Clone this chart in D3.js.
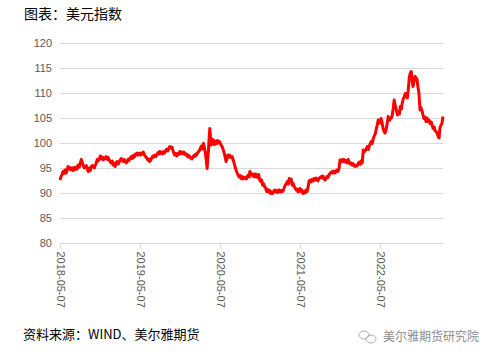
<!DOCTYPE html>
<html><head><meta charset="utf-8">
<script src="https://cdn.jsdelivr.net/npm/d3@7"></script>
<style>body{margin:0;background:#fff;}svg{display:block;}</style>
</head><body>
<svg id="c" width="494" height="361"></svg>
<script>
const title = "图表：美元指数";
const source = "资料来源：WIND、美尔雅期货";
const watermark = "美尔雅期货研究院";
const yTicks = [80, 85, 90, 95, 100, 105, 110, 115, 120];
const xTickLabels = ["2018-05-07", "2019-05-07", "2020-05-07", "2021-05-07", "2022-05-07"];
const seriesName = "美元指数";
const dates = [
"2018-05-07","2018-05-11","2018-05-15","2018-05-21","2018-05-25","2018-05-30","2018-06-04","2018-06-08","2018-06-13","2018-06-18","2018-06-22","2018-06-27",
"2018-07-02","2018-07-06","2018-07-11","2018-07-16","2018-07-20","2018-07-25","2018-07-29","2018-08-03","2018-08-08","2018-08-12","2018-08-16","2018-08-21",
"2018-08-26","2018-08-30","2018-09-04","2018-09-09","2018-09-13","2018-09-18","2018-09-22","2018-09-27","2018-10-01","2018-10-06","2018-10-11","2018-10-15",
"2018-10-19","2018-10-24","2018-10-29","2018-11-03","2018-11-07","2018-11-12","2018-11-16","2018-11-21","2018-11-25","2018-11-29","2018-12-04","2018-12-09",
"2018-12-13","2018-12-18","2018-12-22","2018-12-27","2019-01-01","2019-01-05","2019-01-10","2019-01-14","2019-01-18","2019-01-23","2019-01-28","2019-02-02",
"2019-02-06","2019-02-11","2019-02-15","2019-02-20","2019-02-25","2019-03-01","2019-03-05","2019-03-10","2019-03-15","2019-03-19","2019-03-24","2019-03-29",
"2019-04-03","2019-04-07","2019-04-12","2019-04-16","2019-04-21","2019-04-25","2019-04-30","2019-05-03","2019-05-07","2019-05-12","2019-05-17","2019-05-22",
"2019-05-27","2019-06-01","2019-06-07","2019-06-12","2019-06-16","2019-06-20","2019-06-25","2019-06-30","2019-07-05","2019-07-10","2019-07-14","2019-07-19",
"2019-07-24","2019-07-29","2019-08-02","2019-08-05","2019-08-10","2019-08-15","2019-08-19","2019-08-24","2019-08-28","2019-09-02","2019-09-07","2019-09-12",
"2019-09-16","2019-09-20","2019-09-25","2019-09-30","2019-10-04","2019-10-08","2019-10-12","2019-10-17","2019-10-22","2019-10-26","2019-10-31","2019-11-05",
"2019-11-10","2019-11-14","2019-11-18","2019-11-23","2019-11-27","2019-12-02","2019-12-07","2019-12-12","2019-12-16","2019-12-20","2019-12-25","2019-12-30",
"2020-01-03","2020-01-08","2020-01-13","2020-01-17","2020-01-21","2020-01-25","2020-01-30","2020-02-04","2020-02-08","2020-02-12","2020-02-17","2020-02-21",
"2020-02-25","2020-03-01","2020-03-05","2020-03-09","2020-03-12","2020-03-15","2020-03-18","2020-03-21","2020-03-24","2020-03-27","2020-03-31","2020-04-04",
"2020-04-08","2020-04-12","2020-04-16","2020-04-21","2020-04-25","2020-04-30","2020-05-04","2020-05-07","2020-05-12","2020-05-16","2020-05-21","2020-05-26",
"2020-05-30","2020-06-03","2020-06-07","2020-06-12","2020-06-16","2020-06-21","2020-06-25","2020-07-01","2020-07-06","2020-07-10","2020-07-14","2020-07-19",
"2020-07-24","2020-07-28","2020-08-02","2020-08-06","2020-08-11","2020-08-15","2020-08-20","2020-08-25","2020-08-30","2020-09-04","2020-09-08","2020-09-13",
"2020-09-17","2020-09-20","2020-09-24","2020-09-29","2020-10-03","2020-10-08","2020-10-12","2020-10-16","2020-10-20","2020-10-25","2020-10-30","2020-11-04",
"2020-11-08","2020-11-13","2020-11-17","2020-11-21","2020-11-26","2020-12-01","2020-12-06","2020-12-11","2020-12-15","2020-12-20","2020-12-24","2020-12-28",
"2021-01-02","2021-01-06","2021-01-11","2021-01-15","2021-01-20","2021-01-25","2021-01-29","2021-02-02","2021-02-06","2021-02-11","2021-02-15","2021-02-20",
"2021-02-25","2021-03-01","2021-03-06","2021-03-10","2021-03-15","2021-03-19","2021-03-24","2021-03-28","2021-04-01","2021-04-06","2021-04-10","2021-04-15",
"2021-04-19","2021-04-24","2021-04-28","2021-05-03","2021-05-07","2021-05-12","2021-05-16","2021-05-21","2021-05-25","2021-05-30","2021-06-03","2021-06-08",
"2021-06-12","2021-06-17","2021-06-22","2021-06-26","2021-07-01","2021-07-06","2021-07-10","2021-07-15","2021-07-19","2021-07-24","2021-07-28","2021-08-02",
"2021-08-06","2021-08-11","2021-08-15","2021-08-20","2021-08-24","2021-08-29","2021-09-02","2021-09-07","2021-09-12","2021-09-16","2021-09-21","2021-09-25",
"2021-09-30","2021-10-05","2021-10-09","2021-10-14","2021-10-18","2021-10-23","2021-10-27","2021-11-01","2021-11-06","2021-11-10","2021-11-15","2021-11-20",
"2021-11-24","2021-11-29","2021-12-03","2021-12-08","2021-12-13","2021-12-17","2021-12-22","2021-12-26","2021-12-31","2022-01-04","2022-01-09","2022-01-14",
"2022-01-18","2022-01-23","2022-01-28","2022-02-01","2022-02-06","2022-02-10","2022-02-15","2022-02-20","2022-02-24","2022-03-01","2022-03-06","2022-03-10",
"2022-03-15","2022-03-20","2022-03-24","2022-03-28","2022-04-02","2022-04-06","2022-04-11","2022-04-16","2022-04-20","2022-04-25","2022-04-29","2022-05-03",
"2022-05-07","2022-05-12","2022-05-16","2022-05-21","2022-05-26","2022-05-30","2022-06-04","2022-06-08","2022-06-14","2022-06-18","2022-06-23","2022-06-28",
"2022-07-02","2022-07-07","2022-07-11","2022-07-15","2022-07-20","2022-07-26","2022-07-30","2022-08-04","2022-08-08","2022-08-13","2022-08-17","2022-08-22",
"2022-08-26","2022-08-31","2022-09-04","2022-09-09","2022-09-13","2022-09-18","2022-09-22","2022-09-27","2022-10-01","2022-10-05","2022-10-10","2022-10-14",
"2022-10-19","2022-10-23","2022-10-27","2022-11-01","2022-11-06","2022-11-10","2022-11-15","2022-11-20","2022-11-24","2022-11-29","2022-12-03","2022-12-08",
"2022-12-12","2022-12-17","2022-12-22","2022-12-27","2022-12-31","2023-01-05","2023-01-10","2023-01-14","2023-01-19","2023-01-24","2023-01-28","2023-02-01",
"2023-02-05","2023-02-10","2023-02-14","2023-02-19"
];
const values = [
92.6,93.2,93.6,94.3,93.9,94.6,94.0,94.5,95.3,94.8,95.1,94.6,
95.0,94.5,95.1,94.7,95.2,94.8,95.6,95.2,96.0,96.7,96.3,95.5,
95.0,95.3,95.5,94.8,94.3,95.0,94.5,95.3,95.5,95.2,95.0,95.6,
95.9,96.7,96.4,96.9,97.4,96.8,97.2,96.6,97.0,96.9,97.3,96.7,
97.1,96.6,96.3,96.0,96.4,95.6,95.9,95.3,96.0,96.3,95.8,96.2,
96.6,96.9,96.6,96.3,96.7,96.4,96.0,96.3,96.8,96.5,97.0,97.3,
96.9,97.5,97.2,97.8,97.6,98.0,97.6,97.9,98.0,97.6,97.9,98.2,
97.7,97.3,97.0,96.6,96.8,96.3,96.6,97.0,97.4,97.2,97.6,97.3,
97.7,98.1,97.8,98.3,97.9,98.2,97.8,98.3,98.0,98.5,98.8,98.4,
98.9,99.3,99.0,99.2,98.6,98.1,97.6,97.9,97.4,97.9,97.7,98.3,
97.9,98.2,97.8,98.2,98.0,97.6,97.8,97.2,97.5,97.3,97.0,96.8,
97.1,97.5,97.3,97.8,97.6,98.0,98.3,98.6,99.1,99.4,98.8,99.9,
99.2,98.0,96.5,94.9,97.0,98.5,101.0,102.9,101.5,99.6,100.8,99.8,
100.6,99.7,100.3,99.9,100.5,100.0,100.3,100.0,99.6,99.3,98.7,98.0,
97.2,96.3,96.8,97.6,97.2,97.5,97.1,97.3,96.6,96.0,95.3,94.6,
94.0,93.6,93.2,93.5,92.9,93.3,92.8,93.2,93.0,92.8,93.3,93.6,
93.2,94.3,94.0,93.8,93.4,93.8,93.2,93.8,93.6,93.1,93.7,92.6,
92.3,92.6,91.6,91.9,91.3,91.0,90.3,90.7,90.2,90.5,89.9,90.2,
89.9,90.3,90.6,90.2,90.5,90.1,90.6,90.6,90.2,90.5,90.3,90.6,
91.2,91.6,91.9,92.3,91.8,92.9,92.5,92.8,91.6,91.9,91.3,91.0,
90.6,90.8,90.2,90.4,90.9,90.3,90.6,89.9,90.2,90.0,90.6,90.3,
90.9,92.3,92.6,92.2,92.7,92.4,92.9,92.6,93.0,92.7,92.4,92.9,
93.1,93.3,93.0,93.4,92.9,92.6,92.8,93.3,93.1,93.6,93.9,94.1,
94.3,94.0,94.4,94.0,94.3,94.6,94.3,94.9,96.6,96.2,96.7,96.3,
96.7,96.2,96.5,96.0,96.7,96.2,95.8,96.0,95.6,95.9,95.4,95.3,
95.6,95.4,95.9,96.2,95.7,96.4,96.0,98.6,98.2,98.4,98.9,99.3,
98.7,99.5,99.9,100.3,99.9,100.8,101.4,101.9,102.8,103.6,104.6,104.2,
104.0,104.9,104.3,103.0,102.3,102.0,102.6,103.6,105.3,104.5,104.8,105.0,
105.5,107.0,108.6,107.6,106.8,105.6,106.0,105.8,107.3,106.8,108.0,108.9,
109.2,109.9,109.5,109.0,110.5,113.0,113.9,114.3,112.6,111.3,112.5,113.3,
113.0,112.8,111.4,110.0,106.6,107.1,106.5,105.5,104.9,105.2,104.3,105.0,
104.3,104.6,103.9,104.2,103.6,102.9,103.2,102.4,102.3,101.8,101.3,101.0,
103.0,103.6,103.9,105.3
];

const parse = d3.timeParse("%Y-%m-%d");
const data = dates.map((d, i) => ({date: parse(d), value: values[i]}));

const svg = d3.select("#c");
const m = {left: 60, right: 51, top: 43, bottom: 118};
const W = 494, H = 361;
const x = d3.scaleTime()
  .domain([parse(xTickLabels[0]), parse("2023-02-19")])
  .range([m.left, W - m.right]);
const y = d3.scaleLinear().domain([80, 120]).range([H - m.bottom, m.top]);

const fontLat = "'Liberation Sans', Arial, sans-serif";
const fontCJK = "'Noto Sans CJK SC', sans-serif";

// title
svg.append("text").attr("x", 24).attr("y", 19)
  .attr("font-family", fontCJK).attr("font-size", 14).attr("fill", "#000")
  .text(title);

// grid
svg.append("g").selectAll("line").data(yTicks.filter(t => t !== 80)).join("line")
  .attr("x1", m.left).attr("x2", W - m.right)
  .attr("y1", d => y(d) + 0.5).attr("y2", d => y(d) + 0.5)
  .attr("stroke", "#d9d9d9").attr("stroke-width", 1);

// y axis labels
const yAxis = d3.axisLeft(y).tickValues(yTicks).tickSize(0).tickPadding(8);
const gy = svg.append("g").attr("transform", `translate(${m.left},0)`).call(yAxis);
gy.select(".domain").remove();
gy.selectAll("text").attr("font-family", fontLat).attr("font-size", 11).attr("fill", "#595959");

// x axis
const xAxis = d3.axisBottom(x).tickValues(xTickLabels.map(parse)).tickSize(5).tickSizeOuter(0)
  .tickFormat(d3.timeFormat("%Y-%m-%d"));
const gx = svg.append("g").attr("transform", `translate(0,${y(80) + 0.5})`).call(xAxis);
gx.select(".domain").attr("stroke", "#d9d9d9").attr("d", `M${m.left},0H${W - m.right}`);
gx.selectAll(".tick line").attr("stroke", "#d9d9d9");
gx.selectAll("text")
  .attr("font-family", fontLat).attr("font-size", 11).attr("fill", "#595959")
  .attr("transform", "rotate(90)")
  .attr("x", 8).attr("y", 0).attr("dy", "0.35em")
  .attr("text-anchor", "start");

// line
const line = d3.line().x(d => x(d.date)).y(d => y(d.value));
svg.append("path").datum(data)
  .attr("d", line).attr("fill", "none").attr("stroke", "#ff0000")
  .attr("stroke-width", 3).attr("stroke-linejoin", "round")
  .attr("aria-label", seriesName);

// source
svg.append("text").attr("x", 23).attr("y", 339)
  .attr("font-family", fontCJK).attr("font-size", 13).attr("fill", "#000")
  .text(source);

// watermark icon
const ic = svg.append("g").attr("fill", "none").attr("stroke", "#b0b0b0").attr("stroke-width", 1);
ic.append("ellipse").attr("cx", 364).attr("cy", 335).attr("rx", 5).attr("ry", 4);
ic.append("ellipse").attr("cx", 371).attr("cy", 339).attr("rx", 5).attr("ry", 4);
svg.append("text").attr("x", 383).attr("y", 341)
  .attr("font-family", fontCJK).attr("font-size", 12).attr("fill", "#8c8c8c")
  .text(watermark);
</script>
</body></html>
